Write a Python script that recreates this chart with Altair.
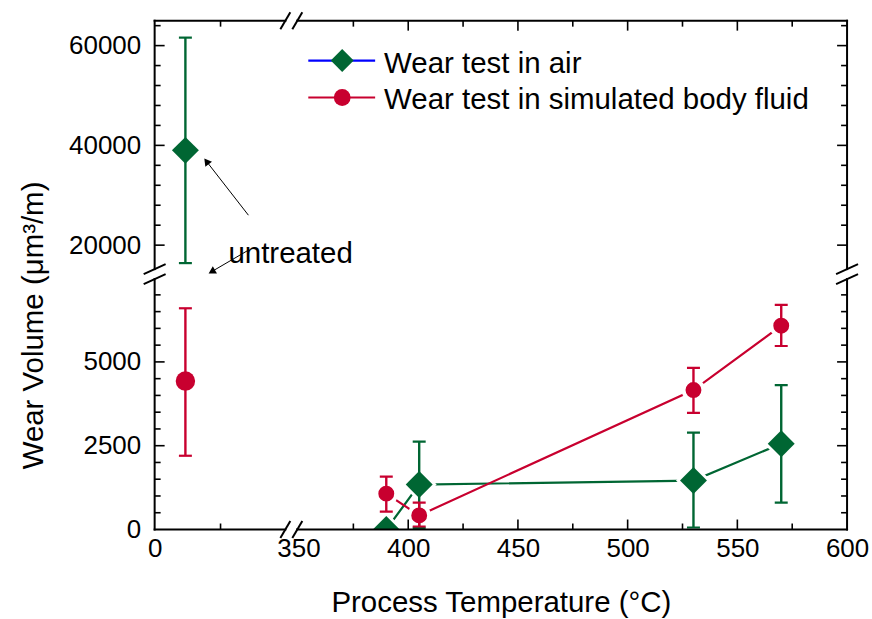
import altair as alt
import pandas as pd

# ---------------- data ----------------
series_names = ["Wear test in air", "Wear test in simulated body fluid"]
untreated_label = "untreated"
x_title = "Process Temperature (°C)"
y_title = "Wear Volume (μm³/m)"

untreated_temp = [14]
air_untreated = [39000]
air_untreated_lo = [16400]
air_untreated_hi = [61600]
body_untreated = [4430]
body_untreated_lo = [2200]
body_untreated_hi = [6600]

temps = [390, 405, 530, 570]
air_vals = [0, 1340, 1460, 2560]
air_lo = [0, 50, 60, 800]
air_hi = [0, 2620, 2890, 4310]
body_vals = [1070, 420, 4160, 6080]
body_lo = [535, 90, 3480, 5475]
body_hi = [1575, 800, 4820, 6700]

# broken-axis segments
x_left_domain = [0, 64.5]
x_right_domain = [349, 600]
y_upper_domain = [14200, 65000]
y_lower_domain = [0, 7620]

# tick labels / tick positions
x_right_labels = [350, 400, 450, 500, 550, 600]
x_left_labels = [0]
y_upper_labels = [20000, 40000, 60000]
y_lower_labels = [0, 2500, 5000]
x_right_major = [400, 450, 500, 550]
x_right_minor = [375, 425, 475, 525, 575]
x_left_minor = [30]
y_upper_major = [20000, 40000, 60000]
y_upper_minor = [24000, 28000, 32000, 36000, 44000, 48000, 52000, 56000, 64000]
y_lower_major = [2500, 5000]
y_lower_minor = [500, 1000, 1500, 2000, 3000, 3500, 4000, 4500, 5500, 6000, 6500, 7000]

# annotation (in data units of the upper-left segment)
arrow_tail_x = [42.7, 42.7]
arrow_tail_y = [26000, 19000]
arrow_head_x = [23.6, 26.0]
arrow_head_y = [36800, 14700]
arrow_angle = [323, 240]
label_x = [33.6]
label_y = [16400]

# ---------------- styles ----------------
W_L, W_R, H_U, H_B = 142, 552, 254, 256
GREEN = "#006633"
RED = "#C8002F"
BLUE = "#0000FF"
FONT = "Liberation Sans"
LABEL_SIZE = 26
TEXT_SIZE = 29.5
MAJ, MIN = 10, 6
TICK_W = 1.6
FRAME_W = 2
DIAMOND = 729
CIRCLE = 254
CIRCLE_BIG = 380


def sc(dom):
    return alt.Scale(domain=dom, nice=False, zero=False)


label_axis = dict(ticks=False, domain=False, grid=False, labelFontSize=LABEL_SIZE, format="d",
                  labelFont=FONT, labelColor="black", labelFlush=False, labelOverlap=False)
title_style = dict(titleFont=FONT, titleFontSize=TEXT_SIZE, titleFontWeight="normal",
                   titleColor="black", titleAlign="center", titleBaseline="middle")

# panel definitions: (x domain, x axis, y domain, y axis)
P_UL = dict(xd=x_left_domain, xa=None, yd=y_upper_domain,
            ya=alt.Axis(values=y_upper_labels, labelPadding=14, title=None, **label_axis))
P_UR = dict(xd=x_right_domain, xa=None, yd=y_upper_domain, ya=None)
P_LL = dict(xd=x_left_domain,
            xa=alt.Axis(values=x_left_labels, labelPadding=6, title=None, **label_axis),
            yd=y_lower_domain,
            ya=alt.Axis(values=y_lower_labels, labelPadding=14, title=y_title, titleAngle=270,
                        titleX=-121, titleY=51, **title_style, **label_axis))
P_LR = dict(xd=x_right_domain,
            xa=alt.Axis(values=x_right_labels, labelPadding=6, title=x_title, titleAngle=0,
                        titleX=205, titleY=73, **title_style, **label_axis),
            yd=y_lower_domain, ya=None)


def X(f, P):
    return alt.X(f"{f}:Q", scale=sc(P["xd"]), axis=P["xa"])


def Y(f, P):
    return alt.Y(f"{f}:Q", scale=sc(P["yd"]), axis=P["ya"])


one = pd.DataFrame({"k": [0]})


def seg(x0, y0, x1, y1, color="black", width=FRAME_W, cap="square"):
    return alt.Chart(one).mark_rule(color=color, strokeWidth=width, strokeCap=cap).encode(
        x=alt.value(x0), y=alt.value(y0), x2=alt.value(x1), y2=alt.value(y1))


def xtick_layer(vals, P, top, length, H):
    df = pd.DataFrame({"v": vals})
    y0 = 0 if top else H
    y1 = length if top else H - length
    return alt.Chart(df).mark_rule(color="black", strokeWidth=TICK_W).encode(
        x=X("v", P), y=alt.value(y0), y2=alt.value(y1))


def ytick_layer(vals, P, right, length, W):
    df = pd.DataFrame({"v": vals})
    x0 = W if right else 0
    x1 = W - length if right else length
    return alt.Chart(df).mark_rule(color="black", strokeWidth=TICK_W).encode(
        y=Y("v", P), x=alt.value(x0), x2=alt.value(x1))


def hbreak(cx, cy):
    return [seg(cx - 5, cy, cx + 5, cy, color="white", width=4, cap="butt"),
            seg(cx - 11, cy + 8.5, cx - 1, cy - 8.5, width=2, cap="butt"),
            seg(cx + 1, cy + 8.5, cx + 11, cy - 8.5, width=2, cap="butt")]


def vbreak(cx, cy):
    return [seg(cx, cy - 4, cx, cy + 4, color="white", width=4, cap="butt"),
            seg(cx - 11, cy, cx + 11, cy - 10, width=2, cap="butt"),
            seg(cx - 11, cy + 10, cx + 11, cy, width=2, cap="butt")]


def errorbars(df, P, color, clip=False):
    base = alt.Chart(df).transform_filter("datum.hi > datum.lo")
    rule = base.mark_rule(color=color, strokeWidth=2.4, clip=clip).encode(
        x=X("t", P), y=Y("lo", P), y2="hi:Q")
    cap_lo = base.mark_tick(orient="horizontal", size=13, thickness=2.2, color=color,
                            opacity=1, clip=clip).encode(x=X("t", P), y=Y("lo", P))
    cap_hi = base.mark_tick(orient="horizontal", size=13, thickness=2.2, color=color,
                            opacity=1, clip=clip).encode(x=X("t", P), y=Y("hi", P))
    return [rule, cap_lo, cap_hi]


# ---------------- upper-left panel (untreated, air) ----------------
air_u = pd.DataFrame({"t": untreated_temp, "v": air_untreated,
                      "lo": air_untreated_lo, "hi": air_untreated_hi})
arrows = pd.DataFrame({"x0": arrow_tail_x, "y0": arrow_tail_y,
                       "x1": arrow_head_x, "y1": arrow_head_y, "a": arrow_angle})
lab = pd.DataFrame({"x": label_x, "y": label_y, "s": [untreated_label]})

ul_layers = errorbars(air_u, P_UL, GREEN)
ul_layers.append(alt.Chart(air_u).mark_point(shape="diamond", filled=True, color=GREEN,
                                               size=DIAMOND, opacity=1, strokeWidth=0).encode(
    x=X("t", P_UL), y=Y("v", P_UL)))
ul_layers.append(alt.Chart(arrows).mark_rule(color="black", strokeWidth=1).encode(
    x=X("x0", P_UL), y=Y("y0", P_UL), x2="x1:Q", y2="y1:Q"))
ul_layers.append(alt.Chart(arrows).mark_point(shape="triangle-up", filled=True, color="black",
                                               size=70, opacity=1, strokeWidth=0).encode(
    x=X("x1", P_UL), y=Y("y1", P_UL), angle=alt.Angle("a:Q", scale=None)))
ul_layers.append(alt.Chart(lab).mark_text(font=FONT, fontSize=TEXT_SIZE, align="left",
                                           baseline="alphabetic", color="black").encode(
    x=X("x", P_UL), y=Y("y", P_UL), text="s:N"))
ul_layers += [
    xtick_layer(x_left_minor, P_UL, True, MIN, H_U),
    ytick_layer(y_upper_major, P_UL, False, MAJ, W_L),
    ytick_layer(y_upper_minor, P_UL, False, MIN, W_L),
    seg(0, 0, W_L, 0), seg(0, 0, 0, H_U),
]
UL = alt.layer(*ul_layers).properties(width=W_L, height=H_U)

# ---------------- upper-right panel (legend) ----------------
ur_layers = []
leg_rows = [(series_names[0], BLUE, GREEN, "diamond", 529, 40),
            (series_names[1], RED, RED, "circle", 283, 77)]
for name, lcol, mcol, shape, size, yy in leg_rows:
    ur_layers.append(seg(12, yy, 79, yy, color=lcol, width=2.2, cap="butt"))
    ur_layers.append(alt.Chart(one).mark_point(shape=shape, filled=True, color=mcol, size=size,
                                               opacity=1, strokeWidth=0).encode(
        x=alt.value(46), y=alt.value(yy)))
    ur_layers.append(alt.Chart(pd.DataFrame({"s": [name]})).mark_text(
        font=FONT, fontSize=TEXT_SIZE, align="left", baseline="alphabetic", color="black").encode(
        x=alt.value(88), y=alt.value(yy + 12), text="s:N"))
ur_layers += [
    xtick_layer(x_right_major, P_UR, True, MAJ, H_U),
    xtick_layer(x_right_minor, P_UR, True, MIN, H_U),
    ytick_layer(y_upper_major, P_UR, True, MAJ, W_R),
    ytick_layer(y_upper_minor, P_UR, True, MIN, W_R),
    seg(0, 0, W_R, 0), seg(W_R, 0, W_R, H_U),
]
ur_layers += hbreak(-5, 0)
UR = alt.layer(*ur_layers).properties(width=W_R, height=H_U)

# ---------------- lower-left panel (untreated, body fluid) ----------------
body_u = pd.DataFrame({"t": untreated_temp, "v": body_untreated,
                       "lo": body_untreated_lo, "hi": body_untreated_hi})
ll_layers = errorbars(body_u, P_LL, RED)
ll_layers.append(alt.Chart(body_u).mark_point(shape="circle", filled=True, color=RED,
                                               size=CIRCLE_BIG, opacity=1, strokeWidth=0).encode(
    x=X("t", P_LL), y=Y("v", P_LL)))
ll_layers += [
    xtick_layer(x_left_minor, P_LL, False, MIN, H_B),
    ytick_layer(y_lower_major, P_LL, False, MAJ, W_L),
    ytick_layer(y_lower_minor, P_LL, False, MIN, W_L),
    seg(0, H_B, W_L, H_B), seg(0, 0, 0, H_B),
]
ll_layers += vbreak(0, 0)
LL = alt.layer(*ll_layers).properties(width=W_L, height=H_B)

# ---------------- lower-right panel (treated samples) ----------------
air_df = pd.DataFrame({"t": temps, "v": air_vals, "lo": air_lo, "hi": air_hi})
body_df = pd.DataFrame({"t": temps, "v": body_vals, "lo": body_lo, "hi": body_hi})


def XY():
    return dict(x=X("t", P_LR), y=Y("v", P_LR))


lr_layers = [
    alt.Chart(air_df).mark_line(color=GREEN, strokeWidth=2.2, clip=True).encode(**XY()),
    alt.Chart(body_df).mark_line(color=RED, strokeWidth=2.2, clip=True).encode(**XY()),
    alt.Chart(air_df).mark_point(shape="diamond", filled=True, color="white", size=1225,
                                 opacity=1, strokeWidth=0, clip=True).encode(**XY()),
    alt.Chart(body_df).mark_point(shape="circle", filled=True, color="white", size=560,
                                  opacity=1, strokeWidth=0, clip=True).encode(**XY()),
]
lr_layers += errorbars(air_df, P_LR, GREEN, clip=True)
lr_layers += errorbars(body_df, P_LR, RED, clip=True)
lr_layers += [
    alt.Chart(air_df).mark_point(shape="diamond", filled=True, color=GREEN, size=DIAMOND,
                                 opacity=1, strokeWidth=0, clip=True).encode(**XY()),
    alt.Chart(body_df).mark_point(shape="circle", filled=True, color=RED, size=CIRCLE,
                                  opacity=1, strokeWidth=0, clip=True).encode(**XY()),
    xtick_layer(x_right_major, P_LR, False, MAJ, H_B),
    xtick_layer(x_right_minor, P_LR, False, MIN, H_B),
    ytick_layer(y_lower_major, P_LR, True, MAJ, W_R),
    ytick_layer(y_lower_minor, P_LR, True, MIN, W_R),
    seg(0, H_B, W_R, H_B), seg(W_R, 0, W_R, H_B),
]
lr_layers += hbreak(-5, H_B)
lr_layers += vbreak(W_R, 0)
LR = alt.layer(*lr_layers).properties(width=W_R, height=H_B)

chart = alt.concat(UL, UR, LL, LR, columns=2, spacing=0, bounds="flush", align="each").properties(
    padding={"left": 18, "top": 10, "right": 2, "bottom": 1}
).configure(font=FONT).configure_view(stroke="transparent")

chart.save("out.html", embed_options={"renderer": "svg", "actions": False})
